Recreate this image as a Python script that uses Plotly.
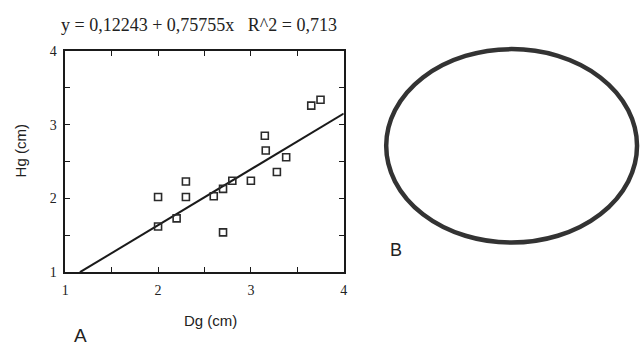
import plotly.graph_objects as go

# Data
dg = [2.0, 2.0, 2.2, 2.3, 2.3, 2.6, 2.7, 2.8, 2.7, 3.0, 3.15, 3.16, 3.28, 3.38, 3.65, 3.75]
hg = [2.02, 1.62, 1.73, 2.23, 2.02, 2.03, 2.13, 2.24, 1.54, 2.24, 2.85, 2.65, 2.36, 2.56, 3.26, 3.34]
intercept = 0.12243
slope = 0.75755
r2 = 0.713
fit_x = [(1 - intercept) / slope, 4.0]
fit_y = [intercept + slope * v for v in fit_x]
tick_vals = [1, 2, 3, 4]

W, H = 644, 352
L, R, T, B = 62, 344, 46, 277

fig = go.Figure()
fig.add_trace(go.Scatter(x=fit_x, y=fit_y, mode="lines",
                         line=dict(color="#1a1a1a", width=2), showlegend=False))
fig.add_trace(go.Scatter(x=dg, y=hg, mode="markers",
                         marker=dict(symbol="square-open", size=7, color="#2a2a2a",
                                     line=dict(width=1.6, color="#2a2a2a")),
                         showlegend=False))

axis_common = dict(
    showgrid=False, zeroline=False, showline=True, linecolor="#1a1a1a", linewidth=1.6,
    mirror="ticks", ticks="inside", ticklen=5, tickwidth=1.3, tickcolor="#1a1a1a",
    tickvals=tick_vals, tickfont=dict(family="Liberation Serif", size=14, color="#222"),
    minor=dict(dtick=0.5, ticks="inside", ticklen=5, tickwidth=1.3, tickcolor="#1a1a1a"),
)


def note(text, px, py, size, family="Liberation Sans", angle=0):
    return dict(text=text, x=px / W, y=1 - py / H, xref="paper", yref="paper",
                xanchor="center", yanchor="middle", showarrow=False, textangle=angle,
                font=dict(family=family, size=size, color="#222"))


title = (f"y = 0,{str(intercept).split('.')[1]} + 0,{str(slope).split('.')[1]}x"
         f"   R^2 = 0,{str(r2).split('.')[1]}")

fig.update_layout(
    width=W, height=H, margin=dict(l=0, r=0, t=0, b=0),
    paper_bgcolor="white", plot_bgcolor="white",
    xaxis=dict(range=[1, 4], domain=[L / W, R / W], ticklabelstandoff=4, **axis_common),
    yaxis=dict(range=[1, 4], domain=[1 - B / H, 1 - T / H], ticklabelstandoff=4, **axis_common),
    annotations=[
        note(title, 197, 19, 18, family="Liberation Serif"),
        note("Dg (cm)", 209, 327, 15),
        note("Hg (cm)", 17, 150, 15, angle=-90),
        note("A", 77, 343, 19),
        note("B", 397, 254, 18),
    ],
    shapes=[
        dict(type="circle", xref="paper", yref="paper",
             x0=387 / W, x1=641 / W, y0=1 - 246 / H, y1=1 - 44 / H,
             line=dict(color="#333333", width=4.5)),
    ],
)

fig.write_html("out.html")
